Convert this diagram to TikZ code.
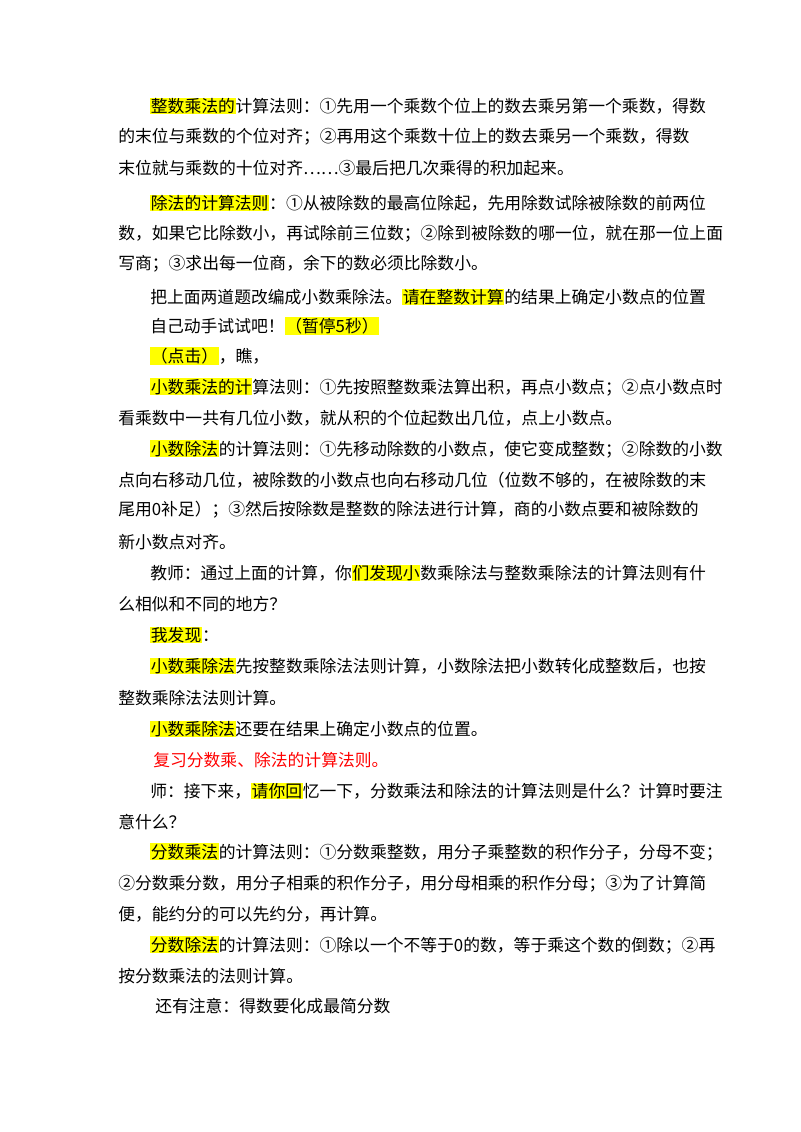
\documentclass[tikz,border=0pt]{standalone}
\usepackage{fontspec}
\usepackage{xcolor}
\setmainfont{Liberation Serif}
\newfontfamily\cjk{Noto Sans CJK SC}
\definecolor{hlyellow}{RGB}{255,255,0}
\definecolor{notered}{RGB}{255,0,0}
\newcommand{\hl}[1]{{\setlength{\fboxsep}{0.5pt}\colorbox{hlyellow}{#1}}}
\tikzset{
  txt/.style={anchor=west, inner sep=0pt, font=\cjk\fontsize{12.6}{14}\selectfont},
}
\begin{document}
\begin{tikzpicture}[x=0.75pt,y=0.75pt,yscale=-1,xscale=1]
\useasboundingbox (0,0) rectangle (800,1132);

% Text Nodes
\node[txt] (l1) at (150,106) {\hl{整数乘法的}计算法则：①先用一个乘数个位上的数去乘另第一个乘数，得数};
\node[txt] (l2) at (118,137) {的末位与乘数的个位对齐；②再用这个乘数十位上的数去乘另一个乘数，得数};
\node[txt] (l3) at (118,168) {末位就与乘数的十位对齐……③最后把几次乘得的积加起来。};
\node[txt] (l4) at (150,203) {\hl{除法的计算法则}：①从被除数的最高位除起，先用除数试除被除数的前两位};
\node[txt] (l5) at (118,234) {数，如果它比除数小，再试除前三位数；②除到被除数的哪一位，就在那一位上面};
\node[txt] (l6) at (118,264) {写商；③求出每一位商，余下的数必须比除数小。};
\node[txt] (l7) at (150,297) {把上面两道题改编成小数乘除法。\hl{请在整数计算}的结果上确定小数点的位置};
\node[txt] (l8) at (150,326) {自己动手试试吧！\hl{（暂停5秒）}};
\node[txt] (l9) at (150,356) {\hl{（点击）}，瞧，};
\node[txt] (l10) at (150,387) {\hl{小数乘法的计}算法则：①先按照整数乘法算出积，再点小数点；②点小数点时};
\node[txt] (l11) at (118,418) {看乘数中一共有几位小数，就从积的个位起数出几位，点上小数点。};
\node[txt] (l12) at (150,449) {\hl{小数除法}的计算法则：①先移动除数的小数点，使它变成整数；②除数的小数};
\node[txt] (l13) at (118,480) {点向右移动几位，被除数的小数点也向右移动几位（位数不够的，在被除数的末};
\node[txt] (l14) at (118,510) {尾用0补足）；③然后按除数是整数的除法进行计算，商的小数点要和被除数的};
\node[txt] (l15) at (118,542) {新小数点对齐。};
\node[txt] (l16) at (150,573) {教师：通过上面的计算，你\hl{们发现小}数乘除法与整数乘除法的计算法则有什};
\node[txt] (l17) at (118,604) {么相似和不同的地方？};
\node[txt] (l18) at (150,635) {\hl{我发现}：};
\node[txt] (l19) at (150,666) {\hl{小数乘除法}先按整数乘除法法则计算，小数除法把小数转化成整数后，也按};
\node[txt] (l20) at (118,698) {整数乘除法法则计算。};
\node[txt] (l21) at (150,729) {\hl{小数乘除法}还要在结果上确定小数点的位置。};
\node[txt, text=notered] (l22) at (153,760) {复习分数乘、除法的计算法则。};
\node[txt] (l23) at (150,791) {师：接下来，\hl{请你回}忆一下，分数乘法和除法的计算法则是什么？计算时要注};
\node[txt] (l24) at (118,822) {意什么？};
\node[txt] (l25) at (150,852) {\hl{分数乘法}的计算法则：①分数乘整数，用分子乘整数的积作分子，分母不变；};
\node[txt] (l26) at (118,884) {②分数乘分数，用分子相乘的积作分子，用分母相乘的积作分母；③为了计算简};
\node[txt] (l27) at (118,914) {便，能约分的可以先约分，再计算。};
\node[txt] (l28) at (150,945) {\hl{分数除法}的计算法则：①除以一个不等于0的数，等于乘这个数的倒数；②再};
\node[txt] (l29) at (118,976) {按分数乘法的法则计算。};
\node[txt] (l30) at (155,1006) {还有注意：得数要化成最简分数};
\end{tikzpicture}
\end{document}
